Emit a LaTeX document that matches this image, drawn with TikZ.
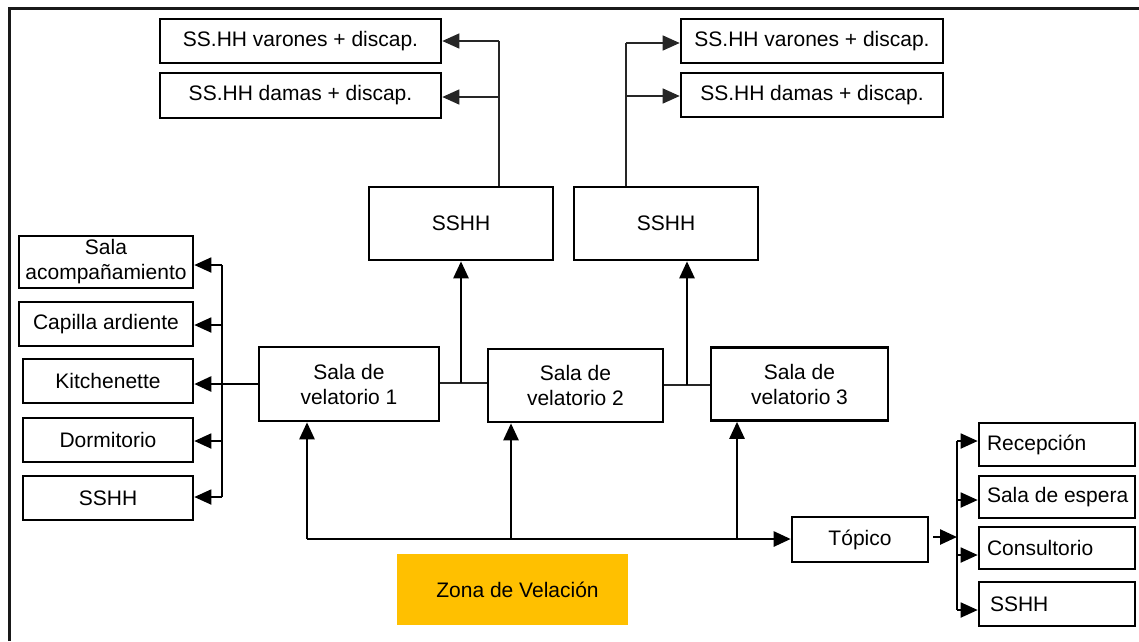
\documentclass[tikz,border=0pt]{standalone}
\usepackage{fontspec}
\setmainfont{Liberation Sans}
\usetikzlibrary{arrows.meta}
\definecolor{zona}{HTML}{FFC000}
\tikzset{
  box/.style={draw=black, line width=2.6pt, inner sep=0pt, align=center, font=\fontsize{21}{25}\selectfont},
  lbox/.style={box, align=left},
  thickline/.style={line width=2.6pt, draw=black},
  thinline/.style={line width=1.4pt, draw=black!85},
  midline/.style={line width=1.8pt, draw=black},
  arr/.style={-{Triangle[length=17pt,width=15pt]}},
}
\newcommand{\lefttext}[1]{\makebox[140pt][l]{#1}}
\begin{document}
\begin{tikzpicture}[x=1pt,y=-1pt]
\useasboundingbox (0,0) rectangle (1139,641);
% frame
\draw[line width=2.8pt, black!90] (9.5,641) -- (9.5,8.5) -- (1139,8.5);

% top-left group
\node[box, minimum width=281, minimum height=44] (L1) at (300.5,41) {SS.HH varones + discap.};
\node[box, minimum width=281, minimum height=45] (L2) at (300.5,95.5) {SS.HH damas + discap.};
\node[box, minimum width=184, minimum height=73] (SSL) at (461,223.5) {SSHH};
% top-right group
\node[box, minimum width=262, minimum height=44] (R1) at (812,41) {SS.HH varones + discap.};
\node[box, minimum width=262, minimum height=44] (R2) at (812,95) {SS.HH damas + discap.};
\node[box, minimum width=184, minimum height=73] (SSR) at (666,223.5) {SSHH};

% left group
\node[box, minimum width=174, minimum height=52] (A1) at (106,262) {Sala\\acompañamiento};
\node[box, minimum width=174, minimum height=44] (A2) at (106,324) {Capilla ardiente};
\node[box, minimum width=170, minimum height=44] (A3) at (108,381) {Kitchenette};
\node[box, minimum width=170, minimum height=44] (A4) at (108,440) {Dormitorio};
\node[box, minimum width=170, minimum height=44] (A5) at (108,498) {SSHH};

% velatorio rooms
\node[box, minimum width=180, minimum height=74] (V1) at (349,384) {Sala de\\velatorio 1};
\node[box, minimum width=175, minimum height=73] (V2) at (575.5,385.5) {Sala de\\velatorio 2};
\node[box, minimum width=177, minimum height=73] (V3) at (799.5,384) {Sala de\\velatorio 3};

% topico
\node[box, minimum width=136, minimum height=45] (T) at (860,539.5) {Tópico};
\node[lbox, minimum width=156, minimum height=43] (B1) at (1057,444.5) {\lefttext{Recepción}};
\node[lbox, minimum width=156, minimum height=42] (B2) at (1057,497) {\lefttext{Sala de espera}};
\node[lbox, minimum width=156, minimum height=42] (B3) at (1057,548) {\lefttext{Consultorio}};
\node[lbox, minimum width=156, minimum height=44] (B4) at (1057,604) {\lefttext{\hspace*{3pt}SSHH}};

% zona
\node[fill=zona, minimum width=231, minimum height=71, inner sep=0pt, font=\fontsize{21}{25}\selectfont] (Z) at (512.5,589.5) {\hspace*{10pt}Zona de Velación};

% --- connectors ---
% top-left
\coordinate (tl) at (499,41);
\coordinate (tl2) at (499,97);
\draw[thinline] (tl) -- (tl |- SSL.north);
\draw[thinline, arr] (tl) -- (tl -| L1.east);
\draw[thinline, arr] (tl2) -- (tl2 -| L2.east);
% top-right
\coordinate (tr) at (626,43);
\coordinate (tr2) at (626,96);
\draw[thinline] (tr) -- (tr |- SSR.north);
\draw[thinline, arr] (tr) -- (tr -| R1.west);
\draw[thinline, arr] (tr2) -- (tr2 -| R2.west);

% V1-V2-V3 links and arrows to SSHH
\coordinate (j1) at (461,383);
\coordinate (j2) at (687,385);
\draw[thinline] (j1 -| V1.east) -- (j1 -| V2.west);
\draw[thinline] (j2 -| V2.east) -- (j2 -| V3.west);
\draw[thickline, arr] (j1) -- (SSL.south);
\draw[thickline, arr] (j2) -- (j2 |- SSR.south);

% left spine
\coordinate (ls1) at (222,265);
\coordinate (ls2) at (222,325);
\coordinate (ls3) at (222,441);
\coordinate (ls4) at (222,497);
\draw[midline] (ls1) -- (ls4);
\draw[midline, arr] (ls1) -- (ls1 -| A1.east);
\draw[midline, arr] (ls2) -- (ls2 -| A2.east);
\draw[midline, arr] (ls3) -- (ls3 -| A4.east);
\draw[midline, arr] (ls4) -- (ls4 -| A5.east);
\draw[thickline, arr] (V1.west) -- (V1.west -| A3.east);

% bottom bus
\coordinate (b1) at (307,539);
\coordinate (b2) at (511,539);
\coordinate (b3) at (737,539);
\draw[thickline, arr] (b1) -- (T.west |- b1);
\draw[thickline, arr] (b1) -- (b1 |- V1.south);
\draw[thickline, arr] (b2) -- (b2 |- V2.south);
\draw[thickline, arr] (b3) -- (b3 |- V3.south);

% topico to right group
\coordinate (rs0) at (933,537);
\coordinate (rs1) at (957,441);
\coordinate (rs2) at (957,500);
\coordinate (rs3) at (957,555);
\coordinate (rs4) at (957,610);
\draw[thickline, arr] (rs0) -- (rs0 -| rs1);
\draw[midline] (rs1) -- (rs4);
\draw[midline, arr] (rs1) -- (rs1 -| B1.west);
\draw[midline, arr] (rs2) -- (rs2 -| B2.west);
\draw[midline, arr] (rs3) -- (rs3 -| B3.west);
\draw[midline, arr] (rs4) -- (rs4 -| B4.west);
\end{tikzpicture}
\end{document}
